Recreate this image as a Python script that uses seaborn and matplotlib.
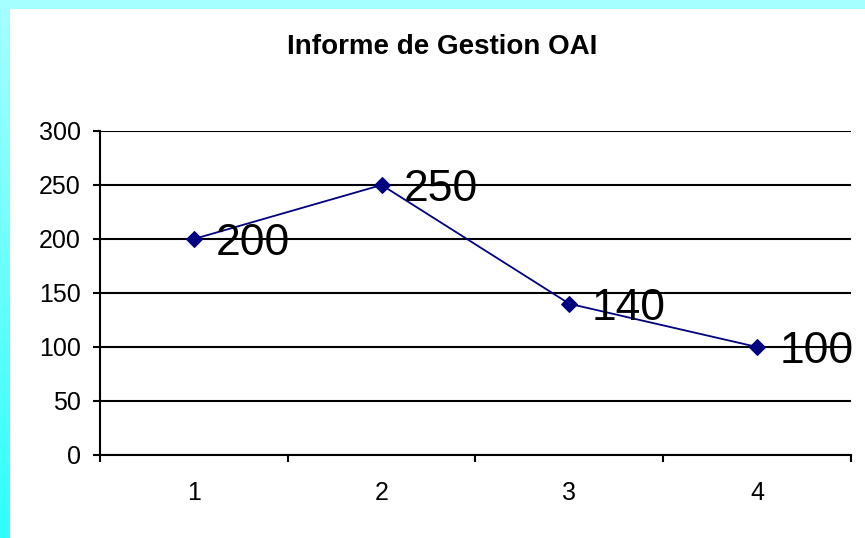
import numpy as np
import pandas as pd
import matplotlib
matplotlib.use('Agg')
import matplotlib.pyplot as plt
import seaborn as sns
from matplotlib.patches import Rectangle

# chart data
categories = [1, 2, 3, 4]
values = [200, 250, 140, 100]
y_ticks = [0, 50, 100, 150, 200, 250, 300]
title = "Informe de Gestion OAI"

df = pd.DataFrame({"cat": categories, "val": values})

sns.set_theme(style="white")
plt.rcParams['font.family'] = ['Liberation Sans', 'DejaVu Sans']

fig = plt.figure(figsize=(8.65, 5.38), dpi=100)

# cyan frame: light strip on top, gradient strip on the left
bg = fig.add_axes([0, 0, 1, 1], zorder=-10)
grad = np.linspace(0, 1, 256).reshape(-1, 1)
cmap = matplotlib.colors.LinearSegmentedColormap.from_list("cy", ["#A6FFFF", "#2EFFFF"])
bg.imshow(grad, aspect="auto", cmap=cmap, extent=[0, 1, 0, 1], origin="upper")
bg.add_patch(Rectangle((0, 1 - 9 / 538), 1, 9 / 538, color="#A6FFFF", lw=0))
bg.add_patch(Rectangle((10 / 865, 0), 1, 1 - 9 / 538, color="white", lw=0))
bg.set_xlim(0, 1)
bg.set_ylim(0, 1)
bg.axis("off")

ax = fig.add_axes([100 / 865, 1 - 455 / 538, 751 / 865, 324 / 538])
ax.set_facecolor("none")

sns.lineplot(data=df, x="cat", y="val", ax=ax, color="#000080", linewidth=1.3,
             marker="D", markersize=8, markeredgecolor="#000080", zorder=5)

for c, v in zip(categories, values):
    ax.annotate(str(v), (c, v), xytext=(16, -11.5), textcoords="offset points",
                ha="left", va="baseline", fontsize=32, color="black",
                annotation_clip=False, zorder=6)

ax.set_xlim(0.5, 4.5)
ax.set_ylim(0, 300)
ax.set_yticks(y_ticks)
ax.set_xticks(categories)
ax.set_xticks([0.5, 1.5, 2.5, 3.5, 4.5], minor=True)
ax.set_xlabel("")
ax.set_ylabel("")

ax.yaxis.grid(True, color="black", linewidth=1.5)
ax.xaxis.grid(False)
ax.set_axisbelow(True)

for side in ["top", "right"]:
    ax.spines[side].set_visible(False)
for side in ["left", "bottom"]:
    ax.spines[side].set_color("black")
    ax.spines[side].set_linewidth(1.5)

ax.tick_params(axis="y", which="major", left=True, length=5, width=1.5,
               color="black", pad=9, labelsize=18, labelcolor="black")
ax.tick_params(axis="x", which="major", bottom=True, length=0, pad=19,
               labelsize=18, labelcolor="black")
ax.tick_params(axis="x", which="minor", bottom=True, length=5, width=1.5, color="black")

fig.text(442 / 865, 1 - 47 / 538, title, ha="center", va="center",
         fontsize=20, fontweight="bold", color="black")

fig.savefig("out.png", dpi=100)
